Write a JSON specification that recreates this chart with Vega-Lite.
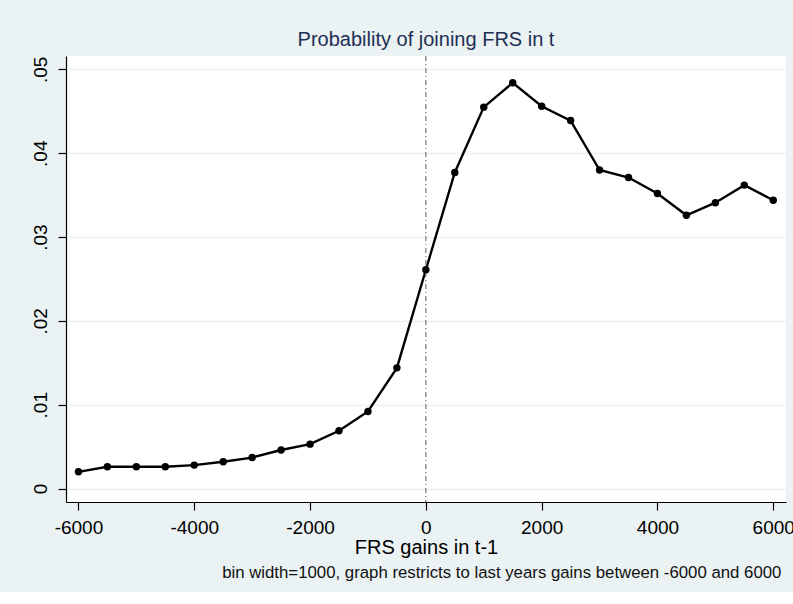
{
  "$schema": "https://vega.github.io/schema/vega-lite/v6.json",
  "background": "#EAF2F3",
  "padding": {"left": 31, "top": 30, "right": 7, "bottom": 10},
  "title": {
    "text": "bin width=1000, graph restricts to last years gains between -6000 and 6000",
    "orient": "bottom", "anchor": "end", "fontSize": 16.8, "font": "Liberation Sans",
    "fontWeight": "normal", "color": "#111111", "offset": 8, "dx": -13
  },
  "vconcat": [
    {
      "width": 720,
      "height": 446,
      "title": {
        "text": "Probability of joining FRS in t", "fontSize": 20, "fontWeight": "normal",
        "color": "#1E2F55", "font": "Liberation Sans", "offset": 5
      },
      "data": {
        "values": [
          {"gain": -6000, "prob": 0.0020},
          {"gain": -5500, "prob": 0.0026},
          {"gain": -5000, "prob": 0.0026},
          {"gain": -4500, "prob": 0.0026},
          {"gain": -4000, "prob": 0.0028},
          {"gain": -3500, "prob": 0.0032},
          {"gain": -3000, "prob": 0.0037},
          {"gain": -2500, "prob": 0.0046},
          {"gain": -2000, "prob": 0.0053},
          {"gain": -1500, "prob": 0.0069},
          {"gain": -1000, "prob": 0.0092},
          {"gain": -500, "prob": 0.0144},
          {"gain": 0, "prob": 0.0261},
          {"gain": 500, "prob": 0.0377},
          {"gain": 1000, "prob": 0.0455},
          {"gain": 1500, "prob": 0.0484},
          {"gain": 2000, "prob": 0.0456},
          {"gain": 2500, "prob": 0.0439},
          {"gain": 3000, "prob": 0.0380},
          {"gain": 3500, "prob": 0.0371},
          {"gain": 4000, "prob": 0.0352},
          {"gain": 4500, "prob": 0.0326},
          {"gain": 5000, "prob": 0.0341},
          {"gain": 5500, "prob": 0.0362},
          {"gain": 6000, "prob": 0.0344}
        ]
      },
      "layer": [
        {
          "mark": {"type": "line", "color": "black", "strokeWidth": 2.4},
          "encoding": {
            "x": {
              "field": "gain", "type": "quantitative",
              "scale": {"domain": [-6215, 6220], "nice": false, "zero": false},
              "axis": {
                "values": [-6000, -4000, -2000, 0, 2000, 4000, 6000],
                "title": "FRS gains in t-1",
                "grid": false,
                "labelExpr": "toString(datum.value)"
              }
            },
            "y": {
              "field": "prob", "type": "quantitative",
              "scale": {"domain": [-0.0016, 0.0516], "nice": false, "zero": false},
              "axis": {
                "values": [0, 0.01, 0.02, 0.03, 0.04, 0.05],
                "title": null,
                "grid": true,
                "labelAngle": 270,
                "labelAlign": "center",
                "labelBaseline": "bottom",
                "labelExpr": "datum.value == 0 ? '0' : replace(format(datum.value, '.2f'), '0.', '.')"
              }
            }
          }
        },
        {
          "data": {"values": [{}]},
          "mark": {"type": "rule", "color": "#777777", "strokeWidth": 1.2, "strokeDash": [5, 3, 1, 3]},
          "encoding": {"x": {"datum": 0, "type": "quantitative"}}
        },
        {
          "mark": {"type": "circle", "color": "black", "size": 55, "opacity": 1},
          "encoding": {
            "x": {"field": "gain", "type": "quantitative"},
            "y": {"field": "prob", "type": "quantitative"}
          }
        }
      ]
    }
  ],
  "config": {
    "font": "Liberation Sans",
    "view": {"fill": "white", "stroke": null},
    "axis": {
      "domainColor": "black",
      "domainWidth": 1.2,
      "tickColor": "black",
      "tickSize": 8,
      "tickWidth": 1.2,
      "labelColor": "black",
      "labelFont": "Liberation Sans",
      "labelFontSize": 19,
      "labelPadding": 8,
      "labelFlush": false,
      "labelOverlap": false,
      "gridColor": "#EAF2F3",
      "gridWidth": 1.5,
      "titleFont": "Liberation Sans",
      "titleFontSize": 20,
      "titleFontWeight": "normal",
      "titleColor": "black",
      "titlePadding": 0
    }
  }
}
